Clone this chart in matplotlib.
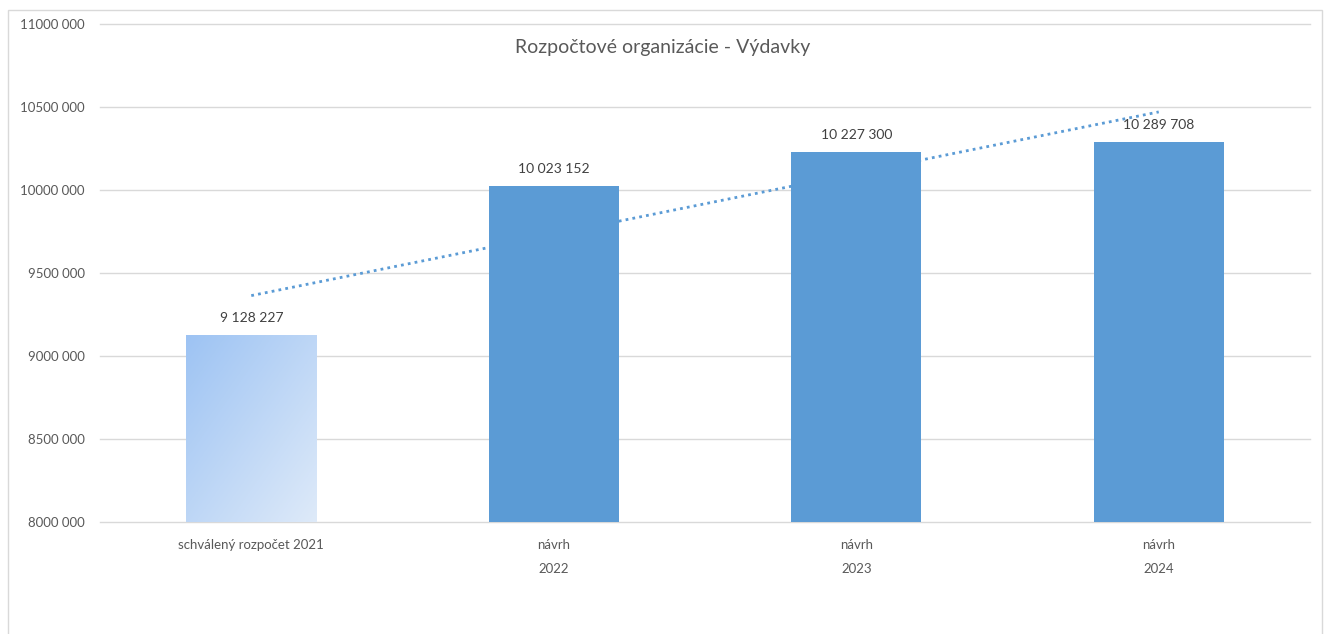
import matplotlib.pyplot as plt
import numpy as np
from matplotlib.patches import Rectangle

# Data
categories = ["schválený rozpočet 2021", "návrh\n2022", "návrh\n2023", "návrh\n2024"]
values = [9128227, 10023152, 10227300, 10289708]
value_labels = ["9 128 227", "10 023 152", "10 227 300", "10 289 708"]
y_ticks = [8000000, 8500000, 9000000, 9500000, 10000000, 10500000, 11000000]
y_tick_labels = ["8000 000", "8500 000", "9000 000", "9500 000",
                 "10000 000", "10500 000", "11000 000"]

BAR_COLOR = "#5B9BD5"
TEXT_COLOR = "#595959"
FONT = ["Lato", "DejaVu Sans"]

W, H = 1326, 634
fig = plt.figure(figsize=(W / 100, H / 100), dpi=100)

# chart border
fig.patches.append(Rectangle((8 / W, -0.05), (1322 - 8) / W, 1.05 - 10 / H,
                             transform=fig.transFigure, fill=False,
                             edgecolor="#D9D9D9", linewidth=1))

ax = fig.add_axes([100 / W, (H - 522) / H, (1310 - 100) / W, (522 - 24) / H])
x = np.arange(len(categories))

ax.set_xlim(-0.5, len(categories) - 0.5)
ax.set_ylim(y_ticks[0], y_ticks[-1])
ax.set_yticks(y_ticks)
ax.set_yticklabels(y_tick_labels, family=FONT, fontsize=9.5, color=TEXT_COLOR)
ax.set_xticks(x)
ax.set_xticklabels(categories, family=FONT, fontsize=9.5, color=TEXT_COLOR,
                   linespacing=2.2)
ax.tick_params(length=0, axis="y", pad=11)
ax.tick_params(length=0, axis="x", pad=12)
for s in ax.spines.values():
    s.set_visible(False)
for yt in y_ticks:
    ax.axhline(yt, color="#D9D9D9", linewidth=1, zorder=0, clip_on=False)

bars = ax.bar(x, values, width=0.43, color=BAR_COLOR, zorder=2)

# gradient on the first bar
b0 = bars[0]
b0.set_facecolor("none")
gx, gy = np.meshgrid(np.linspace(0, 1, 100), np.linspace(0, 1, 100))
t = np.clip((gx + gy) / 2, 0, 1)
c1 = np.array([0x9D, 0xC3, 0xF3]) / 255
c2 = np.array([0xDE, 0xEA, 0xF9]) / 255
img = c1[None, None, :] * (1 - t[..., None]) + c2[None, None, :] * t[..., None]
x0 = b0.get_x()
im = ax.imshow(img, extent=[x0, x0 + b0.get_width(), y_ticks[0], values[0]],
               origin="upper", aspect="auto", zorder=2)
im.set_clip_path(b0)

# linear trendline
k, q = np.polyfit(x, values, 1)
ax.plot(x, k * x + q, linestyle=(0, (1, 1.5)), color=BAR_COLOR, linewidth=2,
        zorder=3)

for xi, v, lab in zip(x, values, value_labels):
    ax.annotate(lab, (xi, v), xytext=(0, 8), textcoords="offset points",
                ha="center", va="bottom", family=FONT, fontsize=10,
                color="#404040", zorder=4)

fig.text(0.5, (H - 47) / H, "Rozpočtové organizácie - Výdavky", ha="center",
         va="center", family=FONT, fontsize=14, color=TEXT_COLOR)

fig.savefig("out.png", dpi=100)
